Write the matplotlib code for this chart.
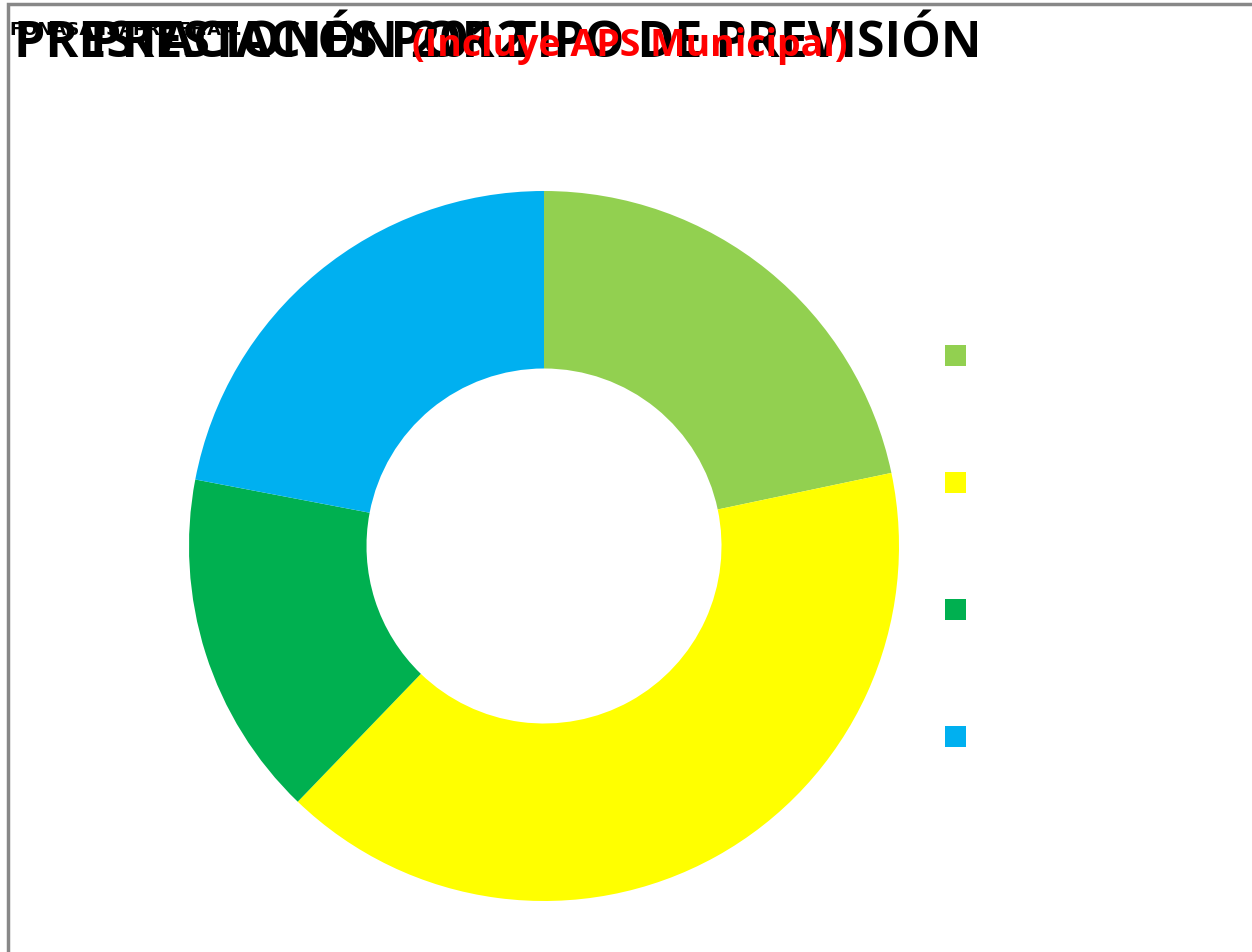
import matplotlib.pyplot as plt
from matplotlib.patches import Rectangle

categories = ['FONASA', 'ISAPRE', 'FF.AA.', 'PARTICULAR']
values = [21.7, 40.5, 15.8, 22.0]
colors = ['#92D050', '#FFFF00', '#00B050', '#00B0F0']

fig = plt.figure(figsize=(12.52, 9.53), dpi=100)
fig.patch.set_facecolor('white')

# gray chart border (only top/left visible in the original)
fig.add_artist(Rectangle((8 / 1252, -0.01), 1.2, (953 - 5) / 953 + 0.01,
                         transform=fig.transFigure, fill=False,
                         edgecolor='#888888', linewidth=2.5))

# donut: center ~(544,547), outer radius ~355 px
ax = fig.add_axes([(544 - 355) / 1252, (953 - 547 - 355) / 953,
                   710 / 1252, 710 / 953])
wedges, _ = ax.pie(values, colors=colors, startangle=90, counterclock=False,
                   radius=1.0, wedgeprops=dict(width=0.5, linewidth=0))
ax.set_xlim(-1, 1)
ax.set_ylim(-1, 1)
ax.set_aspect('equal')
ax.axis('off')

# legend squares, labels in white like the source
ys = [356, 483, 610, 737]
for y, c, lab in zip(ys, colors, categories):
    fig.add_artist(Rectangle((945 / 1252, (953 - y - 11) / 953), 21 / 1252, 21 / 953,
                             transform=fig.transFigure, facecolor=c, edgecolor='none'))
    fig.text(980 / 1252, (953 - y) / 953, lab, color='white', fontsize=14,
             va='center', ha='left')

# small garbled label at top-left (stacked labels in the source)
fig.text(10 / 1252, (953 - 30) / 953, 'FONASA ISAPRE FF.AA.', fontsize=13,
         fontweight='bold', family='DejaVu Sans Condensed',
         va='center', ha='left', color='black')

# title (overlapping texts as in the reference)
fig.text(14 / 1252, (953 - 44) / 953, 'PRESTACIONES POR TIPO DE PREVISIÓN',
         fontsize=36, family='Open Sans', fontweight='bold',
         va='center', ha='left', color='black')
fig.text(90 / 1252, (953 - 44) / 953, 'PRESTACIÓN 2012',
         fontsize=36, family='Open Sans', fontweight='bold',
         va='center', ha='left', color='black')
fig.text(412 / 1252, (953 - 46) / 953, '(Incluye APS Municipal)',
         fontsize=27, family='Open Sans', fontweight='bold',
         va='center', ha='left', color='#FF0000')

plt.savefig('out.png', dpi=100)
